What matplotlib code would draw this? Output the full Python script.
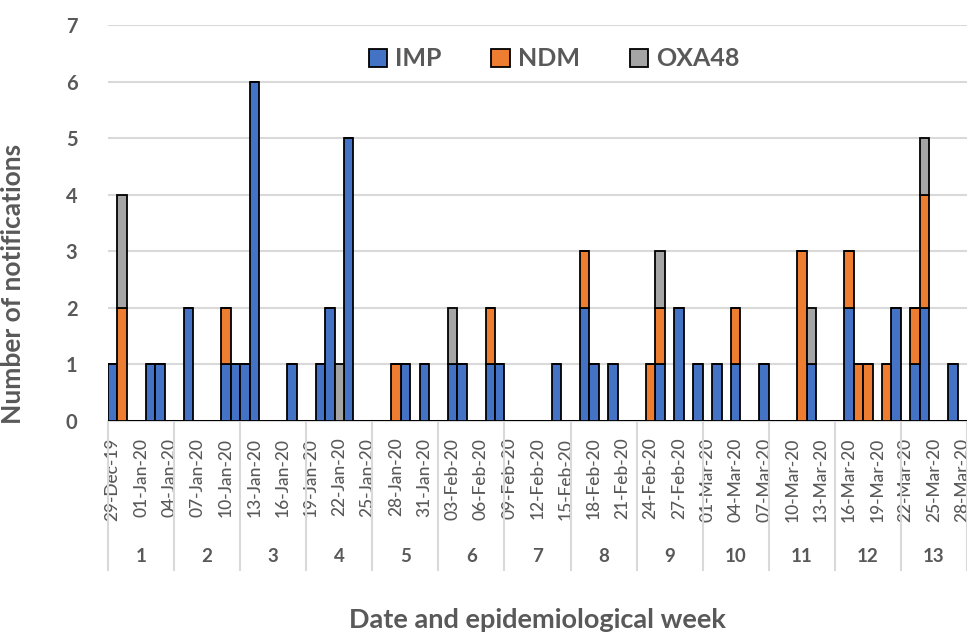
import datetime as dt
import matplotlib
matplotlib.use("Agg")
import matplotlib.pyplot as plt
from matplotlib.lines import Line2D
from matplotlib.patches import Patch

plt.rcParams['font.family'] = ['Lato', 'DejaVu Sans']

# ---- data: one value per day, 29-Dec-19 .. 28-Mar-20 (13 epi weeks x 7 days) ----
start = dt.date(2019, 12, 29)
n_days = 91
dates = [start + dt.timedelta(days=i) for i in range(n_days)]
date_labels = [d.strftime("%d-%b-%y") for d in dates]
weeks = [str(w) for w in range(1, 14)]

imp = [1, 0, 0, 0, 1, 1, 0,   # week 1
       0, 2, 0, 0, 0, 1, 1,   # week 2
       1, 6, 0, 0, 0, 1, 0,   # week 3
       0, 1, 2, 0, 5, 0, 0,   # week 4
       0, 0, 0, 1, 0, 1, 0,   # week 5
       0, 1, 1, 0, 0, 1, 1,   # week 6
       0, 0, 0, 0, 0, 1, 0,   # week 7
       0, 2, 1, 0, 1, 0, 0,   # week 8
       0, 0, 1, 0, 2, 0, 1,   # week 9
       0, 1, 0, 1, 0, 0, 1,   # week 10
       0, 0, 0, 0, 1, 0, 0,   # week 11
       0, 2, 0, 0, 0, 0, 2,   # week 12
       0, 1, 2, 0, 0, 1, 0]   # week 13
ndm = [0, 2, 0, 0, 0, 0, 0,
       0, 0, 0, 0, 0, 1, 0,
       0, 0, 0, 0, 0, 0, 0,
       0, 0, 0, 0, 0, 0, 0,
       0, 0, 1, 0, 0, 0, 0,
       0, 0, 0, 0, 0, 1, 0,
       0, 0, 0, 0, 0, 0, 0,
       0, 1, 0, 0, 0, 0, 0,
       0, 1, 1, 0, 0, 0, 0,
       0, 0, 0, 1, 0, 0, 0,
       0, 0, 0, 3, 0, 0, 0,
       0, 1, 1, 1, 0, 1, 0,
       0, 1, 2, 0, 0, 0, 0]
oxa48 = [0, 2, 0, 0, 0, 0, 0,
         0, 0, 0, 0, 0, 0, 0,
         0, 0, 0, 0, 0, 0, 0,
         0, 0, 0, 1, 0, 0, 0,
         0, 0, 0, 0, 0, 0, 0,
         0, 1, 0, 0, 0, 0, 0,
         0, 0, 0, 0, 0, 0, 0,
         0, 0, 0, 0, 0, 0, 0,
         0, 0, 1, 0, 0, 0, 0,
         0, 0, 0, 0, 0, 0, 0,
         0, 0, 0, 0, 1, 0, 0,
         0, 0, 0, 0, 0, 0, 0,
         0, 0, 1, 0, 0, 0, 0]

series = [("IMP", imp, "#4472C4"), ("NDM", ndm, "#ED7D31"), ("OXA48", oxa48, "#A5A5A5")]
TXT = "#595959"
GRID = "#D9D9D9"

W, H = 967, 633
fig = plt.figure(figsize=(W / 100, H / 100), dpi=100)
ax = fig.add_axes([108 / W, (H - 421) / H, 859 / W, 396 / H])

x = list(range(n_days))
bottom = [0] * n_days
for name, vals, col in series:
    ax.bar(x, vals, width=1.0, bottom=bottom, color=col, edgecolor="black",
           linewidth=1.3, label=name, zorder=3)
    bottom = [b + v for b, v in zip(bottom, vals)]

ax.set_xlim(-0.5, n_days - 0.5)
ax.set_ylim(0, 7)
ax.set_yticks(range(0, 8))
ax.yaxis.grid(True, color=GRID, linewidth=1.5, zorder=0)
ax.set_axisbelow(True)
for s in ["top", "right", "left"]:
    ax.spines[s].set_visible(False)
ax.spines["bottom"].set_color(GRID)
ax.spines["bottom"].set_linewidth(1.5)
ax.tick_params(axis="y", length=0, pad=22, labelsize=14.5, labelcolor=TXT)
for t in ax.get_yticklabels():
    t.set_fontweight("bold")

tick_idx = list(range(0, n_days, 3))
ax.set_xticks(tick_idx)
ax.set_xticklabels([date_labels[i] for i in tick_idx], rotation=90,
                   fontsize=12.5, color=TXT, fontweight="medium")
ax.tick_params(axis="x", length=0, pad=12)

# week separators and labels
trans = ax.get_xaxis_transform()
sep_bottom = -(570 - 421) / 396
for k in range(len(weeks) + 1):
    xs = k * 7 - 0.5
    ax.add_line(Line2D([xs, xs], [0, sep_bottom], transform=trans, color=GRID,
                       linewidth=1.5, clip_on=False))
for k, wk in enumerate(weeks):
    ax.text(k * 7 + 3, -(556 - 421) / 396, wk, transform=trans, ha="center",
            va="center", fontsize=13.5, fontweight="bold", color=TXT)

ax.set_ylabel("Number of notifications", fontsize=19, fontweight="bold", color=TXT)
ax.yaxis.set_label_coords(-(108 - 25) / 859, (421 - 284) / 396)
fig.text(537 / W, 1 - 620 / H, "Date and epidemiological week", ha="center",
         va="center", fontsize=19.5, fontweight="bold", color=TXT)

handles = [Patch(facecolor=c, edgecolor="black", linewidth=1.3) for _, _, c in series]
leg = ax.legend(handles, [n for n, _, _ in series], loc="center",
                bbox_to_anchor=((554 - 108) / 859, (421 - 59) / 396), ncol=3,
                frameon=False, handlelength=0.75, handleheight=0.75,
                handletextpad=0.3, columnspacing=2.0,
                prop={"size": 18, "weight": "bold"})
for t in leg.get_texts():
    t.set_color(TXT)

fig.savefig("out.png", dpi=100)
